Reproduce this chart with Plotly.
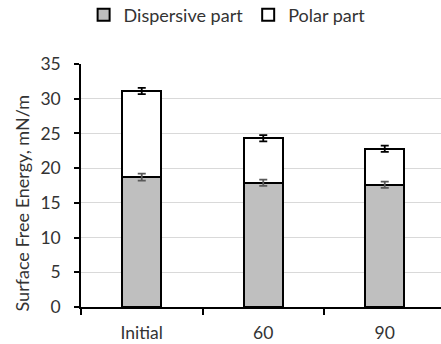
import plotly.graph_objects as go

# Surface free energy components (mN/m)
categories = ["Initial", "60", "90"]
dispersive = [18.7, 17.9, 17.6]
polar = [12.4, 6.4, 5.2]
dispersive_err = [0.5, 0.45, 0.45]
total_err = [0.45, 0.45, 0.45]
y_ticks = [0, 5, 10, 15, 20, 25, 30, 35]

total = [d + p for d, p in zip(dispersive, polar)]
FONT = "Lato"
TEXT = "#333333"

fig = go.Figure()
fig.add_trace(go.Bar(
    x=categories, y=dispersive, name="Dispersive part",
    marker=dict(color="#bfbfbf", line=dict(color="black", width=2)),
    width=0.32,
))
fig.add_trace(go.Bar(
    x=categories, y=polar, name="Polar part",
    marker=dict(color="white", line=dict(color="black", width=2)),
    width=0.32,
))
# error bars drawn on top of the stacked bars
fig.add_trace(go.Scatter(
    x=categories, y=dispersive, mode="markers", showlegend=False,
    marker=dict(opacity=0), hoverinfo="skip",
    error_y=dict(type="data", array=dispersive_err, color="#595959",
                 thickness=1.8, width=4),
))
fig.add_trace(go.Scatter(
    x=categories, y=total, mode="markers", showlegend=False,
    marker=dict(opacity=0), hoverinfo="skip",
    error_y=dict(type="data", array=total_err, color="black",
                 thickness=1.8, width=4),
))

fig.update_layout(
    width=441, height=344,
    margin=dict(l=81, r=0, t=64, b=37),
    barmode="stack",
    plot_bgcolor="white", paper_bgcolor="white",
    font=dict(family=FONT, size=17.5, color=TEXT),
    legend=dict(
        orientation="h", xref="container", yref="container",
        x=0.515, xanchor="center", y=1 - 15 / 344, yanchor="middle",
        font=dict(size=18), itemwidth=30,
        traceorder="normal", tracegroupgap=0,
    ),
    annotations=[dict(
        text="Surface Free Energy, mN/m", textangle=-90,
        xref="paper", yref="paper", x=-0.164, y=0.43,
        xanchor="center", yanchor="middle", showarrow=False,
        font=dict(size=18, color=TEXT),
    )],
)
fig.update_xaxes(
    range=[-0.5, -0.5 + 360 / 121.5],
    showline=True, linecolor="black", linewidth=1.5,
    ticks="outside", tickson="boundaries", ticklen=6, tickwidth=1.5,
    tickcolor="black", showgrid=False, ticklabelstandoff=9,
)
fig.update_yaxes(
    range=[0, 35], tickvals=y_ticks,
    showline=True, linecolor="black", linewidth=1.5,
    ticks="outside", ticklen=5, tickwidth=1.5, tickcolor="black",
    showgrid=True, gridcolor="#d9d9d9", gridwidth=1,
    zeroline=False, ticklabelstandoff=10,
)

fig.write_html("out.html")
